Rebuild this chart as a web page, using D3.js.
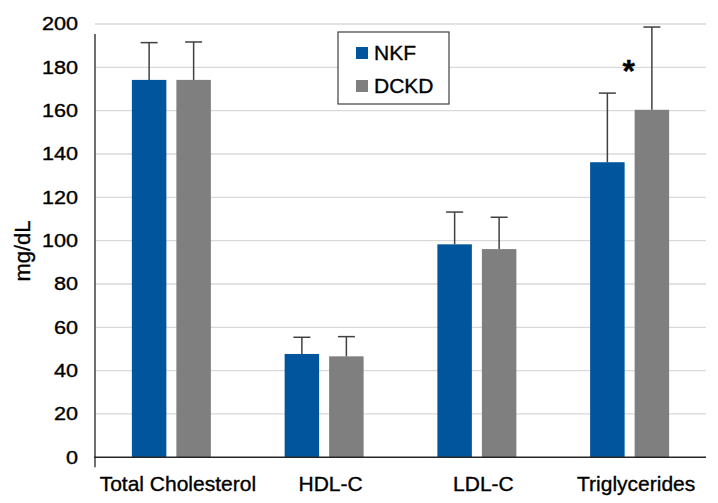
<!-- Lipid profile bar chart -->
<style>body { margin: 0; } text { stroke: #000; stroke-width: 0.35px; }</style>
<svg width="718" height="503"></svg>
<script src="https://d3js.org/d3.v7.min.js"></script>
<script>
const categories = ["Total Cholesterol", "HDL-C", "LDL-C", "Triglycerides"];
const series = ["NKF", "DCKD"];
const nkfMean = [174.2, 47.7, 98.3, 136.2];
const nkfErr = [17.2, 7.7, 14.9, 31.9];
const dckdMean = [174.2, 46.6, 96.1, 160.4];
const dckdErr = [17.5, 9.1, 14.7, 38.2];
const yTicks = [0, 20, 40, 60, 80, 100, 120, 140, 160, 180, 200];
const colors = { NKF: "#01559d", DCKD: "#7f7f7f" };

const rows = categories.map((c, i) => ({
  cat: c,
  vals: [
    { s: "NKF", v: nkfMean[i], e: nkfErr[i] },
    { s: "DCKD", v: dckdMean[i], e: dckdErr[i] }
  ]
}));

const svg = d3.select("svg");
const font = "Liberation Sans, Arial, sans-serif";
const mLeft = 95, mRight = 706, mTop = 24, mBottom = 457.3;

const x0 = d3.scaleBand().domain(categories).range([mLeft, mRight]);
const x1 = d3.scaleBand().domain(series).range([0, 79]).paddingInner(0.225);
const groupOff = (x0.bandwidth() - 79) / 2;
const y = d3.scaleLinear().domain([0, 200]).range([mBottom, mTop]);

// gridlines
svg.append("g").selectAll("line").data(yTicks.slice(1)).enter()
  .append("line")
  .attr("x1", mLeft).attr("x2", mRight)
  .attr("y1", d => y(d)).attr("y2", d => y(d))
  .attr("stroke", "#d9d9d9").attr("stroke-width", 1.3);

// y axis labels
const yAxis = svg.append("g").attr("transform", `translate(${mLeft},0)`)
  .call(d3.axisLeft(y).tickValues(yTicks).tickSize(0).tickPadding(17));
yAxis.select(".domain").remove();
yAxis.selectAll("text")
  .attr("font-family", font).attr("font-size", 18.5).attr("fill", "#000")
  .attr("transform", "translate(-17,0) scale(1.17,1) translate(17,0)");

// bars
const g = svg.append("g").selectAll("g").data(rows).enter()
  .append("g").attr("transform", d => `translate(${x0(d.cat) + groupOff},0)`);

g.selectAll("rect").data(d => d.vals).enter()
  .append("rect")
  .attr("x", d => x1(d.s)).attr("width", x1.bandwidth())
  .attr("y", d => y(d.v)).attr("height", d => y(0) - y(d.v))
  .attr("fill", d => colors[d.s]);

// error bars
const eb = g.selectAll("g.err").data(d => d.vals).enter().append("g").attr("class", "err")
  .attr("stroke", "#404040").attr("stroke-width", 1.5);
eb.append("line")
  .attr("x1", d => x1(d.s) + x1.bandwidth() / 2).attr("x2", d => x1(d.s) + x1.bandwidth() / 2)
  .attr("y1", d => y(d.v)).attr("y2", d => y(d.v + d.e));
eb.append("line")
  .attr("x1", d => x1(d.s) + x1.bandwidth() / 2 - 8.5).attr("x2", d => x1(d.s) + x1.bandwidth() / 2 + 8.5)
  .attr("y1", d => y(d.v + d.e)).attr("y2", d => y(d.v + d.e));

// axes lines
svg.append("line").attr("x1", mLeft).attr("x2", mLeft).attr("y1", 34).attr("y2", mBottom + 10)
  .attr("stroke", "#404040").attr("stroke-width", 1.5);
svg.append("line").attr("x1", mLeft - 1).attr("x2", mRight).attr("y1", mBottom).attr("y2", mBottom)
  .attr("stroke", "#262626").attr("stroke-width", 1.5);

// x labels
svg.append("g").selectAll("text").data(categories).enter()
  .append("text")
  .attr("x", d => x0(d) + x0.bandwidth() / 2 + 6.5).attr("y", 491)
  .attr("text-anchor", "middle")
  .attr("font-family", font).attr("font-size", 21).attr("fill", "#000")
  .text(d => d);

// y title
svg.append("text")
  .attr("transform", "translate(30,251) rotate(-90)")
  .attr("text-anchor", "middle")
  .attr("font-family", font).attr("font-size", 22).attr("fill", "#000")
  .text("mg/dL");

// significance marker
svg.append("text")
  .attr("x", x0("Triglycerides") + groupOff + x1("DCKD") - 6).attr("y", y(173))
  .attr("text-anchor", "middle")
  .attr("font-family", font).attr("font-size", 32).attr("font-weight", "bold")
  .text("*");

// legend
const lg = svg.append("g").attr("transform", "translate(338,32)");
lg.append("rect").attr("width", 111).attr("height", 72)
  .attr("fill", "#fff").attr("stroke", "#404040").attr("stroke-width", 1.2);
const li = lg.selectAll("g").data(series).enter().append("g")
  .attr("transform", (d, i) => `translate(18,${15 + i * 33})`);
li.append("rect").attr("width", 12).attr("height", 12).attr("fill", d => colors[d]);
li.append("text").attr("x", 18).attr("y", 12.5)
  .attr("font-family", font).attr("font-size", 21).attr("fill", "#000")
  .text(d => d);
</script>
